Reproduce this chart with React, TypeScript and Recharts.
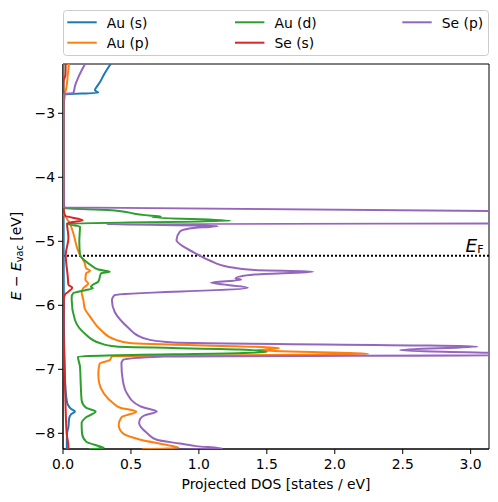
import React from 'react';
import { ScatterChart, Scatter, XAxis, YAxis, ReferenceLine, ReferenceArea } from 'recharts';

// Series names and colours
const seriesNames = ['Au (s)', 'Au (p)', 'Au (d)', 'Se (s)', 'Se (p)'];
const seriesColors = ['#1f77b4', '#ff7f0e', '#2ca02c', '#d62728', '#9467bd'];

// Energy (eV, relative to vacuum) and projected DOS values for each series
const auS_E = [-8.27, -8.21, -8.0, -7.9, -7.77, -7.7, -7.66, -7.62, -7.55, -7.48, -7.17, -6.8, -6.0, -5.0, -4.0, -3.0, -2.705, -2.68, -2.64, -2.58, -2.52, -2.4, -2.2];
const auS_DOS = [0.03, 0.028, 0.03, 0.04, 0.045, 0.06, 0.088, 0.06, 0.035, 0.027, 0.015, 0.01, 0.006, 0.005, 0.004, 0.004, 0.01, 0.26, 0.235, 0.25, 0.27, 0.3, 0.36];

const auP_E = [-8.25, -8.228, -8.18, -8.1, -8.0, -7.87, -7.75, -7.66, -7.6, -7.53, -7.375, -7.2, -7.06, -6.91, -6.855, -6.8, -6.76, -6.7, -6.67, -6.59, -6.54, -6.39, -6.18, -6.05, -5.92, -5.79, -5.73, -5.66, -5.6, -5.5, -5.46, -5.42, -5.34, -5.21, -5.14, -4.875, -4.72, -4.65, -4.56, -4.4, -3.0, -2.69, -2.6, -2.4, -2.2];
const auP_DOS = [0.58, 0.85, 0.76, 0.57, 0.44, 0.41, 0.43, 0.54, 0.42, 0.37, 0.3, 0.265, 0.26, 0.27, 0.345, 0.36, 2.245, 1.43, 1.59, 0.49, 0.39, 0.28, 0.2, 0.16, 0.15, 0.137, 0.15, 0.186, 0.165, 0.17, 0.2, 0.17, 0.16, 0.125, 0.11, 0.076, 0.05, 0.03, 0.005, 0.003, 0.003, 0.015, 0.025, 0.035, 0.046];

const auD_E = [-8.25, -8.228, -8.21, -8.13, -8.0, -7.84, -7.75, -7.66, -7.6, -7.48, -7.2, -6.96, -6.8, -6.73, -6.69, -6.645, -6.59, -6.44, -6.23, -5.92, -5.865, -5.81, -5.76, -5.735, -5.71, -5.68, -5.63, -5.5, -5.475, -5.44, -5.38, -5.3, -5.21, -5.0, -4.77, -4.725, -4.68, -4.625, -4.61, -4.6, -4.51, -4.485, -4.4, -3.0, -2.2];
const auD_DOS = [0.19, 0.3, 0.28, 0.17, 0.14, 0.137, 0.17, 0.24, 0.17, 0.137, 0.13, 0.125, 0.11, 1.5, 1.3, 0.39, 0.27, 0.16, 0.088, 0.064, 0.064, 0.076, 0.17, 0.22, 0.205, 0.22, 0.26, 0.28, 0.345, 0.26, 0.21, 0.16, 0.125, 0.12, 0.125, 0.03, 1.23, 0.66, 0.72, 0.65, 0.33, 0.015, 0.003, 0.003, 0.003];

const seS_E = [-8.27, -8.21, -8.0, -7.5, -7.0, -6.65, -6.3, -5.9, -5.83, -5.78, -5.725, -5.68, -5.55, -5.21, -4.95, -4.72, -4.67, -4.6, -4.5, -4.0, -3.0, -2.5, -2.4, -2.2];
const seS_DOS = [0.04, 0.04, 0.027, 0.018, 0.012, 0.007, 0.005, 0.006, 0.015, 0.044, 0.068, 0.04, 0.035, 0.02, 0.04, 0.03, 0.145, 0.015, 0.005, 0.003, 0.003, 0.004, 0.018, 0.02];

const seP_E = [-8.26, -8.237, -8.2, -8.16, -8.1, -8.0, -7.84, -7.77, -7.72, -7.66, -7.6, -7.58, -7.375, -7.17, -6.91, -6.855, -6.8, -6.775, -6.7, -6.645, -6.58, -6.54, -6.46, -6.37, -6.1, -5.92, -5.865, -5.84, -5.725, -5.645, -5.6, -5.58, -5.52, -5.475, -5.45, -5.4, -5.3, -5.21, -5.1, -4.98, -4.85, -4.8, -4.76, -4.73, -4.7, -4.47, -4.0, -3.0, -2.705, -2.68, -2.56, -2.45, -2.2];
const seP_DOS = [0.55, 1.17, 0.98, 0.86, 0.69, 0.62, 0.56, 0.57, 0.6, 0.69, 0.6, 0.57, 0.47, 0.44, 0.43, 0.44, 0.74, 3.6, 2.48, 3.05, 0.81, 0.64, 0.54, 0.49, 0.38, 0.36, 0.37, 0.38, 1.36, 1.09, 1.31, 1.27, 1.41, 1.84, 1.41, 1.22, 1.08, 0.995, 0.9, 0.835, 0.86, 0.93, 1.14, 0.32, 13, 0.005, 0.003, 0.003, 0.005, 0.076, 0.09, 0.11, 0.17];

const fermiLevel = -5.225;
const xTicks = [0, 0.5, 1.0, 1.5, 2.0, 2.5, 3.0];
const yTicks = [-8, -7, -6, -5, -4, -3];
const xDomain = [0, 3.135];
const yDomain = [-8.245, -2.23];

const zip = (E: number[], D: number[]) => E.map((e, i) => ({ x: D[i], y: e }));
const seriesData = [
  zip(auS_E, auS_DOS),
  zip(auP_E, auP_DOS),
  zip(auD_E, auD_DOS),
  zip(seS_E, seS_DOS),
  zip(seP_E, seP_DOS),
];

const FONT = 'DejaVu Sans';
const minus = (v: number) => String(v).replace('-', '\u2212');

const NoShape = () => <g />;

const Legend = () => {
  const cols = [67.3, 235, 402.3];
  const rows = [22.3, 42.7];
  const positions = [
    [0, 0], [0, 1], [1, 0], [1, 1], [2, 0],
  ];
  return (
    <svg width={498} height={60} style={{ position: 'absolute', left: 0, top: 0, pointerEvents: 'none' }}>
      <rect x={63.5} y={10.5} width={425} height={45} rx={3} ry={3} fill="#fff" fillOpacity={0.8} stroke="#cccccc" strokeWidth={1} />
      {seriesNames.map((n, i) => {
        const [c, r] = positions[i];
        const x = cols[c];
        const y = rows[r];
        return (
          <g key={n}>
            <line x1={x} x2={x + 29.4} y1={y} y2={y} stroke={seriesColors[i]} strokeWidth={2} />
            <text x={x + 39.4} y={y + 5.2} fontFamily={FONT} fontSize={13.9} fill="#000">{n}</text>
          </g>
        );
      })}
    </svg>
  );
};

export default function App() {
  return (
    <div style={{ position: 'absolute', left: 0, top: 0, width: 498, height: 502, background: '#fff' }}>
      <ScatterChart width={498} height={502} margin={{ top: 64, right: 9, bottom: 0, left: 0 }}>
        <XAxis
          type="number"
          dataKey="x"
          domain={xDomain}
          allowDataOverflow
          ticks={xTicks}
          tickFormatter={(v: number) => v.toFixed(1)}
          height={53}
          tickSize={5}
          tickMargin={5}
          stroke="#000"
          tick={{ fill: '#000', fontSize: 13.9, fontFamily: FONT }}
          label={{
            content: () => (
              <text x={276} y={488.5} textAnchor="middle" fontFamily={FONT} fontSize={13.9} fill="#000">
                Projected DOS [states / eV]
              </text>
            ),
          }}
        />
        <YAxis
          type="number"
          dataKey="y"
          domain={yDomain}
          allowDataOverflow
          ticks={yTicks}
          tickFormatter={(v: number) => minus(v)}
          width={63}
          tickSize={5}
          tickMargin={3}
          stroke="#000"
          tick={{ fill: '#000', fontSize: 13.9, fontFamily: FONT }}
          label={{
            content: () => (
              <text
                x={20.5}
                y={256}
                transform="rotate(-90, 20.5, 256)"
                textAnchor="middle"
                fontFamily={FONT}
                fontSize={13.9}
                fill="#000"
              >
                <tspan fontStyle="italic">E</tspan>
                <tspan> {'\u2212'} </tspan>
                <tspan fontStyle="italic">E</tspan>
                <tspan fontSize={9.7} dy={2.5}>vac</tspan>
                <tspan dy={-2.5}> [eV]</tspan>
              </text>
            ),
          }}
        />
        {seriesData.map((d, i) => (
          <Scatter
            key={seriesNames[i]}
            name={seriesNames[i]}
            data={d}
            line={{ stroke: seriesColors[i], strokeWidth: 2, fill: 'none' }}
            lineJointType="monotoneY"
            shape={NoShape}
            isAnimationActive={false}
          />
        ))}
        <ReferenceLine
          y={fermiLevel}
          stroke="#000"
          strokeWidth={2}
          strokeDasharray="2 2"
          label={{
            content: () => (
              <text x={465.5} y={251.7} fontFamily={FONT} fontSize={18.4} fill="#000">
                <tspan fontStyle="italic">E</tspan>
                <tspan fontSize={11} dy={1}>F</tspan>
              </text>
            ),
          }}
        />
        <ReferenceArea
          x1={xDomain[0]}
          x2={xDomain[1]}
          y1={yDomain[0]}
          y2={yDomain[1]}
          fill="none"
          fillOpacity={0}
          stroke="#000"
          strokeWidth={1}
          strokeOpacity={1}
        />
      </ScatterChart>
      <Legend />
    </div>
  );
}
